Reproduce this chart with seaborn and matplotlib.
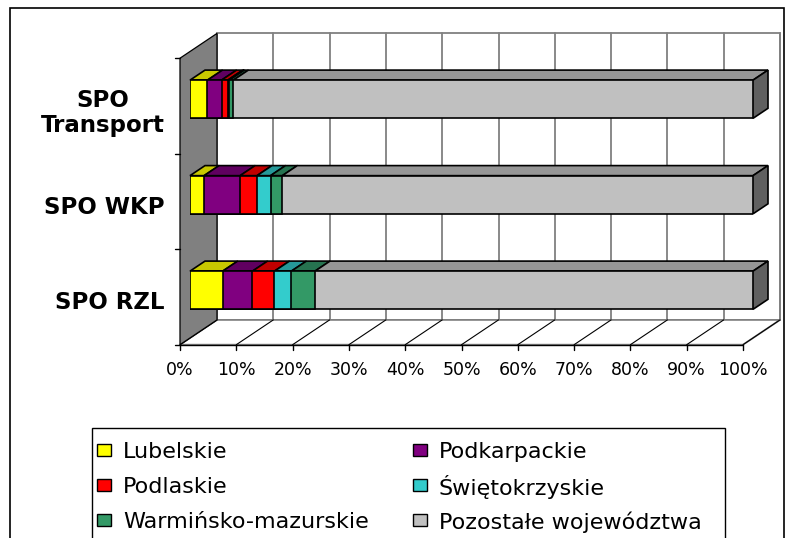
import numpy as np
import pandas as pd
import seaborn as sns
import matplotlib.pyplot as plt
from matplotlib.patches import Polygon, Rectangle
from matplotlib.lines import Line2D
from matplotlib.transforms import IdentityTransform, ScaledTranslation

# shares of funds (%) per programme
programs = ['SPO\nTransport', 'SPO WKP', 'SPO RZL']
regions = ['Lubelskie', 'Podkarpackie', 'Podlaskie', 'Świętokrzyskie',
           'Warmińsko-mazurskie', 'Pozostałe województwa']
lubelskie = [3.1, 2.5, 5.8]
podkarpackie = [2.5, 6.4, 5.3]
podlaskie = [1.1, 3.0, 3.9]
swietokrzyskie = [0.3, 2.4, 3.0]
warminsko = [0.7, 2.1, 4.2]
pozostale = [92.3, 83.6, 77.8]
x_ticks = list(range(0, 101, 10))
x_tick_labels = [f'{v}%' for v in x_ticks]

front_colors = ['#FFFF00', '#800080', '#FF0000', '#33CCCC', '#339966', '#C0C0C0']
top_colors = ['#C8C800', '#600060', '#C00000', '#269999', '#267350', '#969696']

series = [lubelskie, podkarpackie, podlaskie, swietokrzyskie, warminsko, pozostale]
df = pd.DataFrame({
    'program': np.repeat([programs], len(regions), axis=0).ravel(),
    'region': np.repeat(regions, len(programs)),
    'share': np.concatenate(series),
})
df['end'] = df.groupby('program', sort=False)['share'].cumsum()
df['start'] = df['end'] - df['share']

sns.set_style('white')
plt.rcParams['font.family'] = ['DejaVu Sans']
plt.rcParams['text.color'] = 'black'
plt.rcParams['xtick.labelcolor'] = 'black'
plt.rcParams['ytick.labelcolor'] = 'black'

W, H = 786, 538
fig = plt.figure(figsize=(W / 100, H / 100), dpi=100)
ax = fig.add_axes([190 / W, 1 - 338 / H, 563 / W, 286.5 / H])

BAR_W = 0.40
# stacked bars: draw cumulative ends from the largest down
for i in reversed(range(len(regions))):
    sub = df[df['region'] == regions[i]]
    sns.barplot(data=sub, x='end', y='program', orient='h', order=programs,
                color=front_colors[i], saturation=1, width=BAR_W,
                edgecolor='black', linewidth=1.2, ax=ax, zorder=5)

ax.set_xlim(0, 100)
ax.set_ylim(2.5, -0.5)
for s in ax.spines.values():
    s.set_visible(False)
ax.patch.set_visible(False)
ax.set_xlabel('')
ax.set_ylabel('')

RATIO = 0.67
D_FRONT, D_BACK, D_BAR = -10, 27, 15


def proj(x, y, d):
    px, py = ax.transData.transform((x, y))
    return (px + d, py + RATIO * d)


def poly(pts, **kw):
    p = Polygon(pts, closed=True, transform=IdentityTransform(), clip_on=False, **kw)
    ax.add_patch(p)
    return p


def line(p0, p1, **kw):
    ln = Line2D([p0[0], p1[0]], [p0[1], p1[1]], transform=IdentityTransform(),
                clip_on=False, **kw)
    ax.add_line(ln)


y_top, y_bot = -0.5, 2.5

# back wall with vertical gridlines
poly([proj(0, y_top, D_BACK), proj(100, y_top, D_BACK),
      proj(100, y_bot, D_BACK), proj(0, y_bot, D_BACK)],
     facecolor='white', edgecolor='#808080', linewidth=1.3, zorder=0)
for v in x_ticks:
    line(proj(v, y_top, D_BACK), proj(v, y_bot, D_BACK), color='#808080', lw=1.3, zorder=0.5)

# floor
poly([proj(0, y_bot, D_FRONT), proj(100, y_bot, D_FRONT),
      proj(100, y_bot, D_BACK), proj(0, y_bot, D_BACK)],
     facecolor='white', edgecolor='#808080', linewidth=1.3, zorder=1)
for v in x_ticks:
    line(proj(v, y_bot, D_FRONT), proj(v, y_bot, D_BACK), color='black', lw=0.8, zorder=1.2)
line(proj(0, y_bot, D_FRONT), proj(100, y_bot, D_FRONT), color='black', lw=1.0, zorder=1.3)

# left wall
poly([proj(0, y_top, D_FRONT), proj(0, y_top, D_BACK),
      proj(0, y_bot, D_BACK), proj(0, y_bot, D_FRONT)],
     facecolor='#808080', edgecolor='black', linewidth=0.9, zorder=2)

# tick marks
for v in x_ticks:
    p = proj(v, y_bot, D_FRONT)
    line(p, (p[0], p[1] - 5), color='black', lw=1.0, zorder=2)
for b in [-0.5, 0.5, 1.5, 2.5]:
    p = proj(0, b, D_FRONT)
    line(p, (p[0] - 5, p[1]), color='black', lw=1.0, zorder=2)

# top faces and right side of bars
for _, r in df.iterrows():
    k = programs.index(r['program'])
    i = regions.index(r['region'])
    yt = k - BAR_W / 2
    poly([proj(r['start'], yt, 0), proj(r['end'], yt, 0),
          proj(r['end'], yt, D_BAR), proj(r['start'], yt, D_BAR)],
         facecolor=top_colors[i], edgecolor='black', linewidth=1.2, zorder=4)
    if i == len(regions) - 1:
        yb = k + BAR_W / 2
        poly([proj(r['end'], yt, 0), proj(r['end'], yt, D_BAR),
              proj(r['end'], yb, D_BAR), proj(r['end'], yb, 0)],
             facecolor='#606060', edgecolor='black', linewidth=1.2, zorder=4)

# tick labels, shifted to the front edge
ax.set_xticks(x_ticks)
ax.set_xticklabels(x_tick_labels, fontsize=12.5, color='black')
ax.tick_params(axis='x', length=0, pad=12)
ax.set_yticks(range(len(programs)))
ax.set_yticklabels(programs, fontsize=16.5, fontweight='bold', linespacing=1.1,
                   color='black')
ax.tick_params(axis='y', length=0, pad=11)
shift_x = ScaledTranslation(-10 / 100, -6.7 / 100, fig.dpi_scale_trans)
shift_y = ScaledTranslation(-10 / 100, -10 / 100, fig.dpi_scale_trans)
for lab in ax.get_xticklabels():
    lab.set_transform(lab.get_transform() + shift_x)
for lab in ax.get_yticklabels():
    lab.set_transform(lab.get_transform() + shift_y)
    lab.set_multialignment('center')

# legend: two columns, three rows on a fixed grid
leg_cols = [97, 413]
leg_rows = [450, 485, 520]
for j, name in enumerate(regions):
    cx = leg_cols[j % 2]
    cy = leg_rows[j // 2]
    fig.patches.append(Rectangle((cx / W, 1 - (cy + 6) / H), 14 / W, 12 / H,
                                 transform=fig.transFigure, facecolor=front_colors[j],
                                 edgecolor='black', linewidth=1.0))
    fig.text((cx + 26) / W, 1 - cy / H, name, fontsize=16, color='black',
             ha='left', va='center_baseline')
fig.patches.append(Rectangle((92 / W, -0.05), (725 - 92) / W, (1 - 428 / H) + 0.05,
                             transform=fig.transFigure, fill=False,
                             edgecolor='black', linewidth=1.0))

# outer frame
fig.patches.append(Rectangle((10 / W, -0.05), (784 - 10) / W, (1 - 8 / H) + 0.05,
                             transform=fig.transFigure, fill=False,
                             edgecolor='black', linewidth=1.2))

fig.savefig('out.png', dpi=100)
